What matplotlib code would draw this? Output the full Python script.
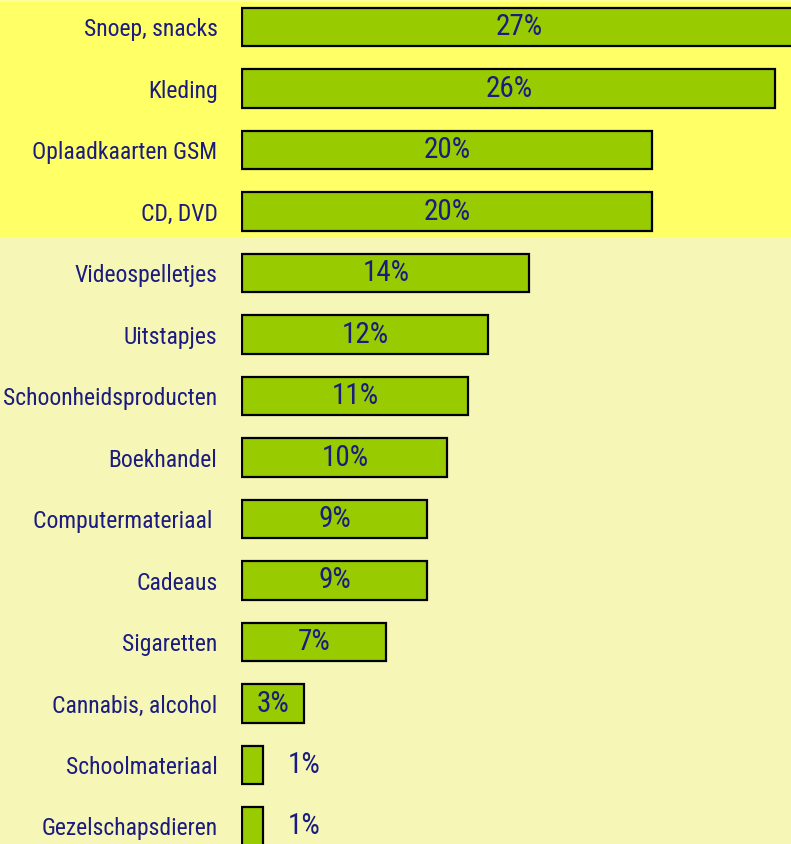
import matplotlib
matplotlib.use("Agg")
import matplotlib.pyplot as plt
from matplotlib import font_manager
from matplotlib.patches import Rectangle

categories = ["Snoep, snacks", "Kleding", "Oplaadkaarten GSM", "CD, DVD",
              "Videospelletjes", "Uitstapjes", "Schoonheidsproducten",
              "Boekhandel", "Computermateriaal ", "Cadeaus", "Sigaretten",
              "Cannabis, alcohol", "Schoolmateriaal", "Gezelschapsdieren"]
values = [27, 26, 20, 20, 14, 12, 11, 10, 9, 9, 7, 3, 1, 1]
value_labels = ["27%", "26%", "20%", "20%", "14%", "12%", "11%", "10%",
                "9%", "9%", "7%", "3%", "1%", "1%"]

# pick a condensed face if one is there
names = {f.name for f in font_manager.fontManager.ttflist}
family = "DejaVu Sans"
stretch = "normal"
for cand in ["Liberation Sans Narrow", "DejaVu Sans Condensed", "Roboto Condensed"]:
    if cand in names:
        family = cand
        break
else:
    stretch = "condensed"

TEXT = "#1b1b80"
BAR = "#99cc00"
W, H = 791, 844

fig = plt.figure(figsize=(W / 100, H / 100), dpi=100)
fig.patch.set_facecolor("#f6f7b6")
fig.patches.append(Rectangle((0, 1 - 238 / H), 1, 238 / H, transform=fig.transFigure,
                             facecolor="#ffff66", edgecolor="none", zorder=-2))
fig.patches.append(Rectangle((0, 1 - 2 / H), 1, 2 / H, transform=fig.transFigure,
                             facecolor="#ffff99", edgecolor="none", zorder=-2))

ax = fig.add_axes([241 / W, 0, 1 - 241 / W, 1])
ax.set_zorder(1)
ax.set_facecolor("none")
pitch = 61.5
px_per_pct = 20.55
ax.set_xlim(-1.5 / px_per_pct, (W - 241) / px_per_pct)
ax.set_ylim((H - 27) / pitch, -27 / pitch)

ypos = list(range(len(categories)))
ax.barh(ypos, values, height=0.62, color=BAR, edgecolor="black", linewidth=1.6)

for y, v, lab in zip(ypos, values, value_labels):
    x = v / 2 if v > 2 else v + 2
    ax.text(x, y, lab, ha="center", va="center", fontsize=21, color=TEXT,
            family=family, fontstretch=stretch)

ax.set_yticks(ypos)
ax.set_yticklabels(categories, fontsize=17, color=TEXT, family=family,
                   fontstretch=stretch)
ax.tick_params(axis="y", length=0, pad=17)
ax.set_xticks([])
for s in ax.spines.values():
    s.set_visible(False)

fig.savefig("out.png", dpi=100)
